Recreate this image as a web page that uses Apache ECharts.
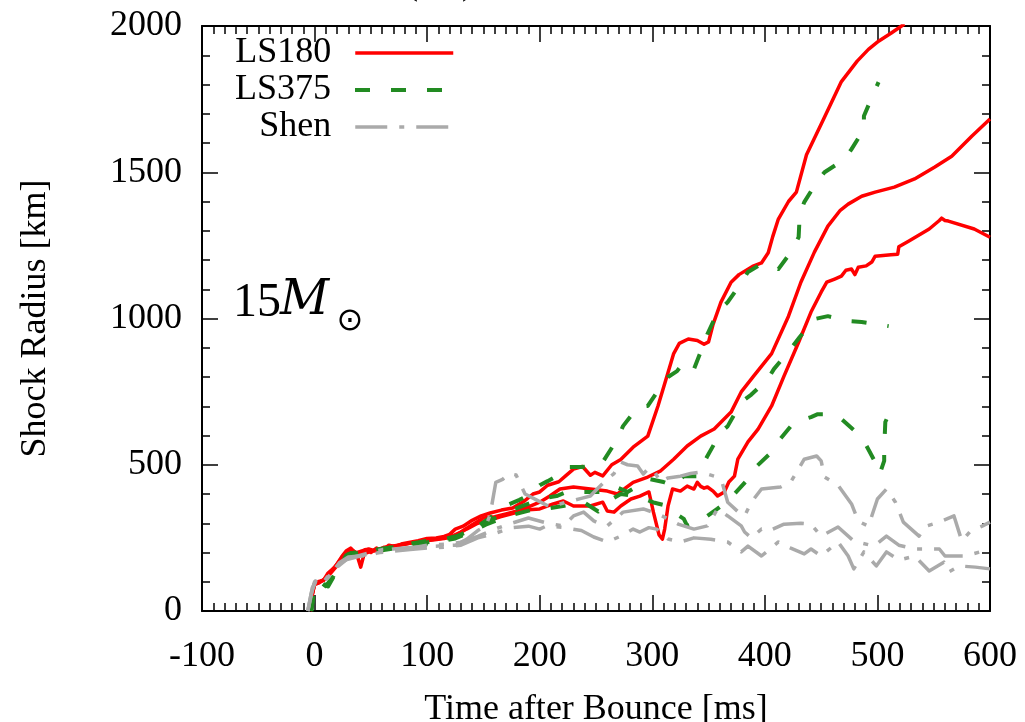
<!DOCTYPE html>
<html>
<head>
<meta charset="utf-8">
<script src="https://cdn.jsdelivr.net/npm/echarts@6/dist/echarts.min.js"></script>
<style>
html,body{margin:0;padding:0;background:#fff;}
#c{width:1025px;height:722px;}
</style>
</head>
<body>
<div id="c"></div>
<script>
// ---- data: [time after bounce (ms), shock radius (km)] ----
const xTicks = [-100, 0, 100, 200, 300, 400, 500, 600];
const yTicks = [0, 500, 1000, 1500, 2000];
const seriesNames = ['LS180', 'LS375', 'Shen'];

const ls180a = [[-4,0],[-2,60],[0,95],[3,100],[8,105],[12,130],[18,150],[24,185],[28,205],[32,215],[36,200],[40,195],[45,210],[50,200],[55,215],[60,205],[66,225],[72,220],[78,230],[85,235],[92,240],[100,248],[108,250],[115,255],[120,262],[125,280],[132,290],[140,310],[148,325],[156,335],[166,345],[176,352],[186,375],[194,400],[200,407],[207,430],[212,436],[217,442],[223,462],[230,485],[238,494],[245,464],[249,474],[256,462],[264,500],[272,518],[283,560],[296,598],[305,700],[314,815],[319,880],[324,915],[332,930],[340,925],[346,912],[350,920],[354,980],[361,1056],[370,1124],[377,1150],[389,1178],[397,1190],[403,1225],[407,1280],[412,1340],[421,1400],[428,1432],[437,1560],[452,1680],[468,1810],[482,1880],[492,1920],[501,1948],[512,1975],[524,2007]];
const ls180b = [[-4,0],[-2,55],[0,92],[4,98],[9,108],[14,128],[20,155],[26,190],[31,208],[36,198],[42,205],[48,212],[54,205],[62,218],[70,222],[80,228],[90,236],[100,242],[110,247],[120,252],[130,270],[140,295],[150,318],[160,322],[170,332],[180,342],[190,356],[200,372],[209,393],[218,417],[230,424],[245,417],[260,410],[269,400],[283,440],[296,458],[307,478],[319,519],[331,564],[343,598],[355,622],[370,680],[379,749],[390,803],[406,880],[421,1008],[432,1124],[444,1227],[456,1316],[467,1370],[474,1391],[486,1418],[498,1432],[515,1449],[533,1477],[551,1518],[566,1555],[584,1624],[600,1682]];
const ls180c = [[-4,0],[-2,58],[0,90],[4,96],[9,110],[14,132],[20,160],[26,192],[32,210],[37,200],[41,150],[44,195],[50,205],[58,210],[66,218],[75,225],[85,232],[95,238],[105,243],[115,248],[125,258],[135,280],[145,300],[155,310],[165,322],[175,332],[187,345],[200,349],[212,366],[221,376],[230,359],[245,359],[256,372],[260,342],[266,338],[272,359],[281,383],[289,393],[297,407],[301,338],[306,260],[309,246],[311,280],[314,359],[318,417],[325,410],[331,427],[337,417],[340,440],[343,426],[346,420],[349,424],[354,410],[358,393],[364,407],[368,441],[373,461],[376,519],[385,578],[394,622],[406,701],[417,803],[430,919],[441,1022],[450,1090],[455,1124],[462,1135],[468,1145],[472,1165],[477,1169],[480,1150],[483,1175],[490,1180],[495,1193],[498,1213],[512,1218],[518,1220],[519,1245],[528,1265],[546,1306],[555,1335],[557,1343],[560,1335],[563,1333],[586,1306],[600,1278]];

const ls375a = [[-3,0],[0,88],[5,100],[10,85],[15,110],[22,150],[28,190],[35,200],[45,195],[55,210],[65,215],[75,225],[85,230],[100,240],[115,245],[130,260],[145,290],[160,330],[170,360],[182,380],[192,400],[200,430],[207,444],[215,461],[224,492],[236,492],[248,496],[256,509],[269,588],[274,632],[287,697],[296,701],[306,759],[314,800],[322,820],[328,851],[337,827],[345,906],[349,947],[358,1022],[367,1056],[377,1111],[385,1159],[394,1180],[401,1186],[412,1169],[425,1237],[430,1278],[431,1357],[435,1398],[446,1466],[453,1500],[471,1545],[477,1579],[488,1647],[488,1692],[497,1774],[501,1808]];
const ls375b = [[-3,0],[0,85],[5,98],[11,88],[17,120],[24,165],[30,195],[38,198],[48,205],[58,212],[70,218],[82,225],[95,232],[110,240],[125,252],[140,280],[152,305],[162,320],[172,340],[182,355],[192,370],[202,385],[215,393],[224,407],[236,407],[254,407],[266,427],[278,407],[287,427],[298,451],[310,441],[319,427],[328,461],[340,461],[349,530],[361,612],[367,632],[379,714],[388,740],[403,795],[408,827],[423,896],[431,937],[444,998],[456,1008],[474,991],[486,988],[510,974]];
const ls375c = [[-3,0],[0,86],[6,96],[12,84],[18,125],[25,170],[32,198],[40,192],[50,202],[60,208],[72,215],[84,222],[96,228],[110,236],[125,248],[140,272],[152,295],[162,310],[177,330],[192,345],[207,350],[222,360],[239,372],[252,340],[263,380],[272,400],[289,390],[302,370],[314,359],[322,330],[328,315],[331,291],[343,304],[349,325],[358,350],[370,385],[373,400],[385,451],[390,485],[406,543],[410,571],[421,622],[426,646],[441,663],[447,673],[459,673],[466,663],[480,615],[488,581],[498,509],[502,468],[506,513],[506,554],[507,646],[509,663]];

const shenA = [[-6,0],[-3,60],[0,100],[3,108],[7,95],[12,120],[16,135],[22,165],[30,185],[40,188],[50,190],[60,205],[70,212],[80,215],[95,220],[110,222],[125,225],[135,245],[145,275],[152,290],[156,330],[161,440],[167,450],[173,470],[179,465],[187,400],[197,380],[209,356],[217,365],[227,375],[237,385],[245,393],[251,417],[260,451],[266,470],[272,509],[278,500],[287,496],[292,468],[296,485],[301,485],[307,441],[314,455],[325,461],[334,470],[343,475],[355,461],[362,440],[367,372],[376,340],[382,325],[388,372],[397,417],[414,424],[423,441],[435,519],[446,530],[450,513],[453,458],[465,430],[477,366],[483,307],[492,290],[500,383],[508,417],[516,372],[523,304],[537,256],[543,290],[555,304],[568,325],[575,239],[582,270],[593,290],[600,304]];
const shenB = [[-6,0],[-2,70],[1,102],[5,95],[10,105],[15,130],[22,160],[30,180],[40,190],[50,200],[60,210],[70,212],[85,215],[100,225],[115,228],[130,235],[145,255],[160,280],[175,300],[190,318],[207,300],[221,291],[230,325],[239,338],[248,308],[254,297],[260,291],[274,338],[292,349],[305,332],[314,315],[323,297],[337,280],[349,291],[358,349],[367,325],[379,291],[382,270],[388,250],[397,280],[403,273],[417,297],[432,300],[441,297],[450,256],[465,287],[479,239],[497,222],[508,256],[519,225],[533,212],[555,212],[560,188],[578,188],[591,202],[600,195]];
const shenC = [[-6,0],[-2,80],[1,100],[6,90],[12,115],[20,150],[28,175],[38,185],[48,195],[58,200],[70,205],[85,210],[100,215],[115,218],[130,225],[145,250],[160,265],[175,285],[190,290],[200,280],[206,291],[222,285],[237,275],[248,253],[260,236],[272,256],[283,280],[289,270],[297,285],[304,280],[310,260],[314,246],[325,236],[337,250],[352,245],[367,236],[379,202],[385,222],[397,188],[412,236],[423,215],[435,195],[441,212],[450,188],[465,236],[474,188],[479,144],[488,202],[499,154],[508,202],[519,174],[533,188],[546,137],[559,167],[563,133],[573,154],[587,150],[600,144]];

// ---- chart ----
const FONT = '"Liberation Serif","Times New Roman",serif';
const RED = '#ff0000', GREEN = '#228b22', GRAY = '#aaaaaa';
const greenDash = [15, 21];
const grayDash = [32, 12, 5, 12];
const styles = [
  {color: RED, type: 'solid', width: 3.5},
  {color: GREEN, type: greenDash, width: 4},
  {color: GRAY, type: grayDash, width: 3.5}
];

function mk(idx, data) {
  const s = styles[idx];
  return {
    name: seriesNames[idx], type: 'line', data: data, xAxisIndex: 0, yAxisIndex: 0,
    symbol: 'none', showSymbol: false, smooth: false, clip: true,
    lineStyle: {color: s.color, width: s.width, type: s.type, cap: 'butt', join: 'round'},
    itemStyle: {color: s.color},
    emphasis: {disabled: true}
  };
}

const series = [
  mk(0, ls180a), mk(0, ls180b), mk(0, ls180c),
  mk(1, ls375a), mk(1, ls375b), mk(1, ls375c),
  mk(2, shenA), mk(2, shenB), mk(2, shenC)
];

function legendFor(idx, centerY) {
  const s = styles[idx];
  return {
    data: [seriesNames[idx]], orient: 'vertical', align: 'right',
    right: 570, top: centerY - 18,
    itemWidth: 98, itemHeight: 14, padding: 0,
    selectedMode: false,
    itemStyle: {opacity: 0, color: 'transparent', borderWidth: 0},
    lineStyle: {color: s.color, width: s.width, type: s.type, cap: 'butt', opacity: 1},
    textStyle: {fontFamily: FONT, fontSize: 36, color: '#000', padding: [0, 19, 0, 0]}
  };
}

const axisCommon = {
  axisLine: {show: true, onZero: false, lineStyle: {color: '#000', width: 2}},
  splitLine: {show: false},
  minorSplitLine: {show: false}
};
const tickStyle = {color: '#000', width: 1.5};

const chart = echarts.init(document.getElementById('c'), null, {renderer: 'canvas'});
chart.setOption({
  animation: false,
  backgroundColor: '#fff',
  grid: {left: 202, right: 35, top: 26, bottom: 111, containLabel: false, outerBoundsMode: 'none'},
  legend: [legendFor(0, 53), legendFor(1, 90), legendFor(2, 127)],
  xAxis: [
    Object.assign({}, axisCommon, {
      type: 'value', position: 'bottom', min: xTicks[0], max: xTicks[xTicks.length - 1], interval: 100,
      axisTick: {show: true, inside: true, length: 16, lineStyle: tickStyle},
      minorTick: {show: true, splitNumber: 10, length: 8, lineStyle: tickStyle},
      axisLabel: {fontFamily: FONT, fontSize: 36, color: '#000', margin: 28,
                  formatter: function (v) { return String(v); }},
      name: 'Time after Bounce [ms]', nameLocation: 'middle', nameGap: 81,
      nameTextStyle: {fontFamily: FONT, fontSize: 36, color: '#000'}
    }),
    Object.assign({}, axisCommon, {
      type: 'value', position: 'top', min: xTicks[0], max: xTicks[xTicks.length - 1], interval: 100,
      axisTick: {show: true, inside: true, length: 16, lineStyle: tickStyle},
      minorTick: {show: true, splitNumber: 10, length: 8, lineStyle: tickStyle},
      axisLabel: {show: false}
    })
  ],
  yAxis: [
    Object.assign({}, axisCommon, {
      type: 'value', position: 'left', min: yTicks[0], max: yTicks[yTicks.length - 1], interval: 500,
      axisTick: {show: true, inside: true, length: 16, lineStyle: tickStyle},
      minorTick: {show: true, splitNumber: 5, length: 8, lineStyle: tickStyle},
      axisLabel: {fontFamily: FONT, fontSize: 36, color: '#000', margin: 20,
                  formatter: function (v) { return String(v); }},
      name: 'Shock Radius [km]', nameLocation: 'middle', nameGap: 148, nameRotate: 90,
      nameTextStyle: {fontFamily: FONT, fontSize: 36, color: '#000'}
    }),
    Object.assign({}, axisCommon, {
      type: 'value', position: 'right', min: yTicks[0], max: yTicks[yTicks.length - 1], interval: 500,
      axisTick: {show: true, inside: true, length: 16, lineStyle: tickStyle},
      minorTick: {show: true, splitNumber: 5, length: 8, lineStyle: tickStyle},
      axisLabel: {show: false}
    })
  ],
  graphic: [
    {type: 'text', x: 406, y: -15, silent: true,
     style: {text: '(2D)', font: '36px ' + FONT, fill: '#000', verticalAlign: 'middle', align: 'left'}},
    {type: 'text', x: 233, y: 303, silent: true,
     style: {text: '15', font: '48px ' + FONT, fill: '#000', verticalAlign: 'middle', align: 'left'}},
    {type: 'text', x: 280, y: 302, silent: true,
     style: {text: 'M', font: 'italic 48px "DejaVu Serif"', fill: '#000', verticalAlign: 'middle', align: 'left'}},
    {type: 'text', x: 350, y: 322, silent: true,
     style: {text: '\u2299', font: '32px "DejaVu Sans"', fill: '#000', verticalAlign: 'middle', align: 'center'}}
  ],
  series: series
});
</script>
</body>
</html>
